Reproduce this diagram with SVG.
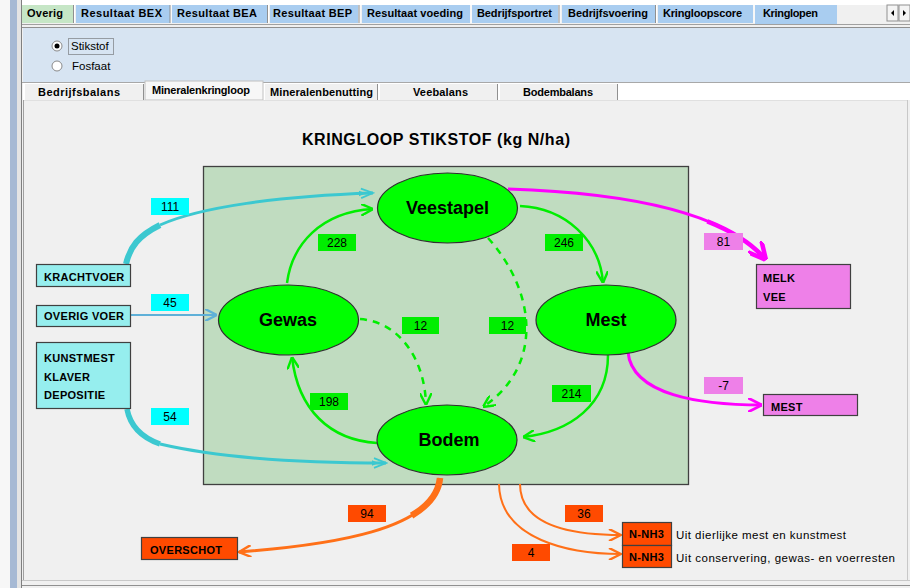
<svg xmlns="http://www.w3.org/2000/svg" width="910" height="588" viewBox="0 0 910 588">
<style>
.tab{font-family:"Liberation Sans",Arial,sans-serif;font-size:11px;font-weight:bold;fill:#000}
.ui{font-family:"Liberation Sans",Arial,sans-serif;font-size:11.5px;fill:#000}
.title{font-family:"Liberation Sans",Arial,sans-serif;font-size:16px;font-weight:bold;fill:#000}
.nodeT{font-family:"Liberation Sans",Arial,sans-serif;font-size:18px;font-weight:bold;fill:#000;text-anchor:middle}
.boxT{font-family:"Liberation Sans",Arial,sans-serif;font-size:11px;font-weight:bold;fill:#000;letter-spacing:0.3px}
.num{font-family:"Liberation Sans",Arial,sans-serif;font-size:12px;fill:#000;text-anchor:middle}
.ell{fill:#00ff00;stroke:#303030;stroke-width:1.2}
.cyanBox{fill:#96eeee;stroke:#404040;stroke-width:1.2}
.magBox{fill:#ee80e8;stroke:#404040;stroke-width:1.2}
.orBox{fill:#ff4a00;stroke:#404040;stroke-width:1.2}
.lc{fill:#00ffff}
.lg{fill:#00ee00}
.lm{fill:#ee80e8}
.lo{fill:#ff4a00}
.g{fill:none;stroke:#00ee00;stroke-width:2.5}
.gd{fill:none;stroke:#00ee00;stroke-width:2.5;stroke-dasharray:7,6}
.c{fill:none;stroke:#3cc8d0}
.m{fill:none;stroke:#ff00ff}
.o{fill:none;stroke:#ff7018}
.tabbg{fill:#a9cdf0}
</style>
<defs>
<marker id="ag" viewBox="0 0 10 10" refX="10" refY="5" markerWidth="12" markerHeight="12" markerUnits="userSpaceOnUse" orient="auto"><path d="M0,0 L10,5 L0,10" fill="none" stroke="#00ee00" stroke-width="2"/></marker>
<marker id="ac" viewBox="0 0 10 10" refX="10" refY="5" markerWidth="16" markerHeight="12" markerUnits="userSpaceOnUse" orient="auto"><path d="M0,1 L10,5 L0,9 M-8,1 L2,5 L-8,9" fill="none" stroke="#3cc8d0" stroke-width="1.5"/></marker>
<marker id="ab" viewBox="0 0 10 10" refX="10" refY="5" markerWidth="12" markerHeight="12" markerUnits="userSpaceOnUse" orient="auto"><path d="M0,0 L10,5 L0,10" fill="none" stroke="#5fb0d8" stroke-width="2"/></marker>
<marker id="am" viewBox="0 0 10 10" refX="10" refY="5" markerWidth="18" markerHeight="18" markerUnits="userSpaceOnUse" orient="auto"><path d="M0,0 L10,5 L0,10" fill="none" stroke="#ff00ff" stroke-width="2.5"/></marker>
<marker id="am2" viewBox="0 0 10 10" refX="10" refY="5" markerWidth="14" markerHeight="14" markerUnits="userSpaceOnUse" orient="auto"><path d="M0,0 L10,5 L0,10" fill="none" stroke="#ff00ff" stroke-width="2"/></marker>
<marker id="ao" viewBox="0 0 10 10" refX="10" refY="5" markerWidth="14" markerHeight="12" markerUnits="userSpaceOnUse" orient="auto"><path d="M0,0 L10,5 L0,10" fill="none" stroke="#ff7018" stroke-width="2"/></marker>
</defs>

<!-- window chrome -->
<g id="chrome">
<rect x="0" y="0" width="910" height="588" fill="#f0f0f0"/>
<rect x="0" y="0" width="10" height="588" fill="#f7f7f7"/>
<rect x="10" y="0" width="7" height="588" fill="#a6b9d4"/>
<rect x="17" y="0" width="4" height="588" fill="#e4e4e4"/>
<line x1="21.5" y1="0" x2="21.5" y2="588" stroke="#808080"/>
<rect x="22" y="0" width="888" height="5" fill="#ffffff"/>
<!-- top tabs -->
<rect x="22" y="5" width="51" height="18" fill="#c6e6c6"/>
<rect x="76" y="5" width="94" height="18" class="tabbg"/>
<rect x="172" y="5" width="95" height="18" class="tabbg"/>
<rect x="270" y="5" width="88" height="18" class="tabbg"/>
<rect x="362" y="5" width="108" height="18" class="tabbg"/>
<rect x="472" y="5" width="86" height="18" class="tabbg"/>
<rect x="562" y="5" width="93" height="18" class="tabbg"/>
<rect x="658" y="5" width="95" height="18" class="tabbg"/>
<rect x="755" y="5" width="82" height="19" class="tabbg"/>
<g stroke="#ffffff"><line x1="74.5" y1="5" x2="74.5" y2="23"/><line x1="171" y1="5" x2="171" y2="23"/><line x1="268.5" y1="5" x2="268.5" y2="23"/><line x1="360" y1="5" x2="360" y2="23"/><line x1="471" y1="5" x2="471" y2="23"/><line x1="560" y1="5" x2="560" y2="23"/><line x1="656.5" y1="5" x2="656.5" y2="23"/><line x1="754" y1="5" x2="754" y2="23"/></g>
<g stroke="#909090"><line x1="73.5" y1="5" x2="73.5" y2="23"/><line x1="170" y1="5" x2="170" y2="23"/><line x1="267.5" y1="5" x2="267.5" y2="23"/><line x1="359" y1="5" x2="359" y2="23"/><line x1="559" y1="5" x2="559" y2="23"/><line x1="655.5" y1="5" x2="655.5" y2="23"/></g>
<text class="tab" x="27" y="17" textLength="36">Overig</text>
<text class="tab" x="81" y="17" textLength="81">Resultaat BEX</text>
<text class="tab" x="177" y="17" textLength="80">Resultaat BEA</text>
<text class="tab" x="273" y="17" textLength="79">Resultaat BEP</text>
<text class="tab" x="367" y="17" textLength="96">Resultaat voeding</text>
<text class="tab" x="477" y="17" textLength="75">Bedrijfsportret</text>
<text class="tab" x="568" y="17" textLength="80">Bedrijfsvoering</text>
<text class="tab" x="663" y="17" textLength="79">Kringloopscore</text>
<text class="tab" x="763" y="17" textLength="55">Kringlopen</text>
<!-- scroll buttons -->
<rect x="887" y="5" width="11" height="16" fill="#f4f4f4" stroke="#909090"/>
<rect x="899" y="5" width="11" height="16" fill="#f4f4f4" stroke="#909090"/>
<path d="M891,13 L894,10 L894,16 Z" fill="#000"/>
<path d="M906,13 L903,10 L903,16 Z" fill="#000"/>
<line x1="22" y1="24.5" x2="910" y2="24.5" stroke="#a0a0a0"/>
<!-- option panel -->
<rect x="23" y="28" width="887" height="54" fill="#d7e4f2"/>
<line x1="22" y1="27.5" x2="910" y2="27.5" stroke="#909090"/>
<line x1="22" y1="82.5" x2="910" y2="82.5" stroke="#a8a8a8"/>
<circle cx="57" cy="46" r="5" fill="#fff" stroke="#8a8a8a"/>
<circle cx="57" cy="46" r="2.5" fill="#000"/>
<rect x="68.5" y="38.5" width="45" height="16" fill="none" stroke="#555" stroke-dasharray="1,1"/>
<text class="ui" x="71" y="50">Stikstof</text>
<circle cx="57" cy="66" r="5" fill="#fff" stroke="#8a8a8a"/>
<text class="ui" x="72" y="70">Fosfaat</text>
<!-- sub tabs -->
<rect x="23" y="83" width="887" height="17" fill="#ffffff"/>
<rect x="25" y="84" width="118" height="16" fill="#f0f0f0"/>
<rect x="145" y="81" width="118" height="19" fill="#f7f7f7" stroke="#c0c0c0"/>
<rect x="265" y="84" width="113" height="16" fill="#f0f0f0"/>
<rect x="380" y="84" width="118" height="16" fill="#f0f0f0"/>
<rect x="500" y="84" width="118" height="16" fill="#f0f0f0"/>
<g stroke="#909090"><line x1="143.5" y1="84" x2="143.5" y2="100"/><line x1="377.5" y1="84" x2="377.5" y2="100"/><line x1="497.5" y1="84" x2="497.5" y2="100"/><line x1="617.5" y1="84" x2="617.5" y2="100"/></g>
<text class="tab" x="38" y="96" textLength="82">Bedrijfsbalans</text>
<text class="tab" x="152" y="94" textLength="98">Mineralenkringloop</text>
<text class="tab" x="270" y="96" textLength="103">Mineralenbenutting</text>
<text class="tab" x="413" y="96" textLength="55">Veebalans</text>
<text class="tab" x="523" y="96" textLength="70">Bodembalans</text>
<!-- main area -->
<rect x="23" y="100" width="884" height="480" fill="#f0f0f0"/>
<line x1="23" y1="100.5" x2="907" y2="100.5" stroke="#e0e0e0"/>
<line x1="23.5" y1="100" x2="23.5" y2="581" stroke="#a0a0a0"/>
<line x1="907.5" y1="100" x2="907.5" y2="581" stroke="#c8c8c8"/>
<line x1="22" y1="580.5" x2="910" y2="580.5" stroke="#c8c8c8"/>
<line x1="22" y1="585.5" x2="910" y2="585.5" stroke="#909090"/>
</g>

<text class="title" x="302" y="145" textLength="268">KRINGLOOP STIKSTOF (kg N/ha)</text>

<g id="farm-frame">
<rect x="203.5" y="166.5" width="485" height="318" fill="#c0dcc0" stroke="#404040" stroke-width="1.3"/>
</g>

<g id="connectors">
<!-- inputs -->
<path class="c" stroke-width="3" d="M160,225 C200,207 280,196 373,193" marker-end="url(#ac)"/>
<path class="c" stroke-width="6" d="M126,264 C130,247 138,236 160,225"/>
<path fill="none" stroke="#5fb0d8" stroke-width="2" d="M130,315 L217,315" marker-end="url(#ab)"/>
<path class="c" stroke-width="3" d="M160,444 C220,458 300,463 386,463" marker-end="url(#ac)"/>
<path class="c" stroke-width="5.5" d="M127,409 C130,425 140,437 160,444"/>
<!-- internal flows -->
<path class="g" d="M287,283 C292,245 320,212 373,209" marker-end="url(#ag)"/>
<path class="g" d="M520,206 C565,208 600,240 603,283" marker-end="url(#ag)"/>
<path class="g" d="M608,355 C608,405 570,432 523,437" marker-end="url(#ag)"/>
<path class="g" d="M377,443 C330,440 298,410 292,357" marker-end="url(#ag)"/>
<path class="gd" d="M360,319 C400,322 425,360 426,405" marker-end="url(#ag)"/>
<path class="gd" d="M488,238 C535,290 545,365 483,407" marker-end="url(#ag)"/>
<!-- outputs -->
<path class="m" stroke-width="3" d="M508,189 C600,192 720,205 766,260" marker-end="url(#am)"/>
<path class="m" stroke-width="4.5" d="M707.3,221.4 C731.7,231.1 752.2,243.5 766,260"/>
<path class="m" stroke-width="3" d="M628,352 C632,395 700,405 762,405" marker-end="url(#am2)"/>
<path class="o" stroke-width="3" d="M440,478 C435,530 330,545 239,552" marker-end="url(#ao)"/>
<path class="o" stroke-width="6.5" d="M440,478 C438.5,493.6 428,505.9 411.6,515.6"/>
<path class="o" stroke-width="2" d="M520,484 C520,525 570,535 621,535" marker-end="url(#ao)"/>
<path class="o" stroke-width="2" d="M499,484 C500,540 570,554 621,554" marker-end="url(#ao)"/>
</g>

<g id="node-veestapel"><ellipse class="ell" cx="447.5" cy="208" rx="70" ry="35"/><text class="nodeT" x="447.5" y="214">Veestapel</text></g>
<g id="node-gewas"><ellipse class="ell" cx="288.5" cy="320" rx="70" ry="35"/><text class="nodeT" x="288" y="326">Gewas</text></g>
<g id="node-mest"><ellipse class="ell" cx="606" cy="320" rx="70" ry="35"/><text class="nodeT" x="606" y="326">Mest</text></g>
<g id="node-bodem"><ellipse class="ell" cx="447" cy="440" rx="70" ry="35"/><text class="nodeT" x="449" y="446">Bodem</text></g>

<g id="node-krachtvoer"><rect class="cyanBox" x="36.5" y="264.5" width="94" height="22"/><text class="boxT" x="44" y="281">KRACHTVOER</text></g>
<g id="node-overigvoer"><rect class="cyanBox" x="36.5" y="305.5" width="94" height="21"/><text class="boxT" x="44" y="320">OVERIG VOER</text></g>
<g id="node-kunstmest"><rect class="cyanBox" x="36.5" y="342.5" width="94" height="66"/><text class="boxT" x="44" y="362">KUNSTMEST</text><text class="boxT" x="44" y="381">KLAVER</text><text class="boxT" x="44" y="399">DEPOSITIE</text></g>
<g id="node-melkvee"><rect class="magBox" x="756.5" y="264.5" width="94" height="44"/><text class="boxT" x="763" y="282">MELK</text><text class="boxT" x="763" y="301">VEE</text></g>
<g id="node-mestout"><rect class="magBox" x="763.5" y="394.5" width="94" height="21"/><text class="boxT" x="771" y="411">MEST</text></g>
<g id="node-overschot"><rect class="orBox" x="141.5" y="537.5" width="96" height="22"/><text class="boxT" x="150" y="554">OVERSCHOT</text></g>
<g id="node-nnh3a"><rect class="orBox" x="622.5" y="522.5" width="49" height="23"/><text class="boxT" x="646.5" y="538" text-anchor="middle" letter-spacing="0">N-NH3</text></g>
<g id="node-nnh3b"><rect class="orBox" x="622.5" y="545.5" width="49" height="22"/><text class="boxT" x="646.5" y="561" text-anchor="middle" letter-spacing="0">N-NH3</text></g>
<text class="ui" x="676" y="539" textLength="170">Uit dierlijke mest en kunstmest</text>
<text class="ui" x="676" y="562" textLength="219">Uit conservering, gewas- en voerresten</text>

<g id="labels">
<rect class="lc" x="151" y="198" width="38" height="17"/><text class="num" x="170" y="211">111</text>
<rect class="lc" x="151" y="294" width="38" height="17"/><text class="num" x="170" y="307">45</text>
<rect class="lc" x="151" y="408" width="38" height="17"/><text class="num" x="170" y="421">54</text>
<rect class="lg" x="318" y="234" width="38" height="17"/><text class="num" x="337" y="247">228</text>
<rect class="lg" x="545" y="234" width="38" height="17"/><text class="num" x="564" y="247">246</text>
<rect class="lg" x="402" y="317" width="37" height="17"/><text class="num" x="420.5" y="330">12</text>
<rect class="lg" x="489" y="317" width="37" height="17"/><text class="num" x="507.5" y="330">12</text>
<rect class="lg" x="310" y="393" width="38" height="17"/><text class="num" x="329" y="406">198</text>
<rect class="lg" x="552" y="385" width="39" height="17"/><text class="num" x="571.5" y="398">214</text>
<rect class="lm" x="704" y="233" width="39" height="17"/><text class="num" x="723.5" y="246">81</text>
<rect class="lm" x="704" y="377" width="39" height="17"/><text class="num" x="723.5" y="390">-7</text>
<rect class="lo" x="348" y="505" width="38" height="17"/><text class="num" x="367" y="518">94</text>
<rect class="lo" x="565" y="505" width="38" height="17"/><text class="num" x="584" y="518">36</text>
<rect class="lo" x="512" y="544" width="38" height="17"/><text class="num" x="531" y="557">4</text>
</g>
</svg>
